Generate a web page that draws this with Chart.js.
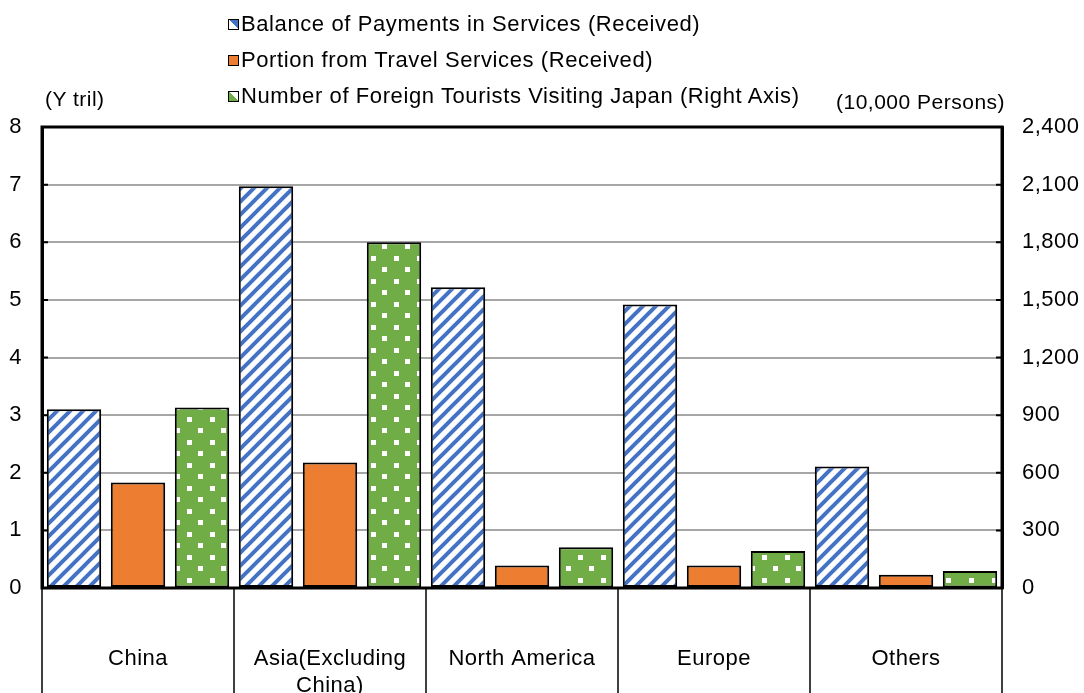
<!DOCTYPE html>
<html>
<head>
<meta charset="utf-8">
<script src="https://cdn.jsdelivr.net/npm/chart.js@4/dist/chart.umd.min.js"></script>
<style>
  html, body { margin: 0; padding: 0; background: #fff; }
  #wrap { position: relative; width: 1084px; height: 693px; overflow: hidden; font-family: "Liberation Sans", Arial, sans-serif; }
  canvas { position: absolute; left: 0; top: 0; }
  .legend { position: absolute; left: 228px; top: 9px; font-size: 22px; letter-spacing: 0.6px; color: #000; }
  .legend div { height: 36px; line-height: 30px; white-space: nowrap; }
  .legend span.box { display: inline-block; width: 9px; height: 9px; border: 1.5px solid #000; margin-right: 2px; vertical-align: 1px; }
  .title { position: absolute; font-size: 21px; letter-spacing: 0.5px; color: #000; white-space: nowrap; }
</style>
</head>
<body>
<div id="wrap">
  <canvas id="chart" width="1084" height="693"></canvas>
  <div class="legend">
    <div><span class="box" style="background: linear-gradient(45deg, #fff 55%, #4472c4 55%);"></span>Balance of Payments in Services (Received)</div>
    <div><span class="box" style="background:#ed7d31;"></span>Portion from Travel Services (Received)</div>
    <div><span class="box" style="background: linear-gradient(45deg, #70ad47 55%, #fff 55%);"></span>Number of Foreign Tourists Visiting Japan (Right Axis)</div>
  </div>
  <div class="title" style="left:45px; top:87px;">(Y tril)</div>
  <div class="title" style="left:836px; top:90px;">(10,000 Persons)</div>
</div>
<script>
const regions = [['China'], ['Asia(Excluding', 'China)'], ['North America'], ['Europe'], ['Others']];
const servicesReceived = [3.1, 6.97, 5.22, 4.92, 2.11];
const travelReceived = [1.83, 2.18, 0.39, 0.39, 0.23];
const foreignTourists = [940, 1800, 212, 192, 88];

const leftTicks = [0, 1, 2, 3, 4, 5, 6, 7, 8];
const rightTicks = [0, 300, 600, 900, 1200, 1500, 1800, 2100, 2400];

function stripePattern() {
    const s = 13;
    const c = document.createElement('canvas');
    c.width = s; c.height = s;
    const g = c.getContext('2d');
    g.fillStyle = '#fff';
    g.fillRect(0, 0, s, s);
    g.strokeStyle = '#4472c4';
    g.lineWidth = 4;
    g.beginPath();
    g.moveTo(0, s); g.lineTo(s, 0);
    g.moveTo(-2, 2); g.lineTo(2, -2);
    g.moveTo(s - 2, s + 2); g.lineTo(s + 2, s - 2);
    g.stroke();
    return g.createPattern(c, 'repeat');
}

function dotPattern() {
    const c = document.createElement('canvas');
    c.width = 23; c.height = 23;
    const g = c.getContext('2d');
    g.fillStyle = '#70ad47';
    g.fillRect(0, 0, 23, 23);
    g.fillStyle = '#fff';
    g.fillRect(3, 3, 5, 5);
    g.fillRect(14, 14, 5, 5);
    return g.createPattern(c, 'repeat');
}

// frame, inner tick marks and the category dividers under the axis
const framePlugin = {
    id: 'frame',
    beforeDraw(chart) {
        chart.ctx.letterSpacing = '0.5px';
    },
    afterDraw(chart) {
        const { ctx, chartArea: a } = chart;
        ctx.save();
        ctx.strokeStyle = '#000';
        ctx.lineWidth = 1.5;
        ctx.beginPath();
        for (let i = 0; i <= regions.length; i++) {
            const x = a.left + (a.right - a.left) * i / regions.length;
            ctx.moveTo(x, a.bottom);
            ctx.lineTo(x, chart.height);
        }
        ctx.stroke();
        ctx.lineWidth = 2;
        ctx.beginPath();
        const yl = chart.scales.y;
        leftTicks.forEach(v => {
            const y = yl.getPixelForValue(v);
            ctx.moveTo(a.left, y); ctx.lineTo(a.left + 6, y);
            ctx.moveTo(a.right, y); ctx.lineTo(a.right - 6, y);
        });
        ctx.stroke();
        ctx.lineWidth = 3;
        ctx.strokeRect(a.left, a.top, a.right - a.left, a.bottom - a.top);
        ctx.restore();
    }
};

const font = { family: '"Liberation Sans", Arial, sans-serif', size: 22 };

new Chart(document.getElementById('chart'), {
    type: 'bar',
    data: {
        labels: regions,
        datasets: [
            {
                label: 'Balance of Payments in Services (Received)',
                data: servicesReceived,
                backgroundColor: stripePattern(),
                yAxisID: 'y'
            },
            {
                label: 'Portion from Travel Services (Received)',
                data: travelReceived,
                backgroundColor: '#ed7d31',
                yAxisID: 'y'
            },
            {
                label: 'Number of Foreign Tourists Visiting Japan (Right Axis)',
                data: foreignTourists,
                backgroundColor: dotPattern(),
                yAxisID: 'y1'
            }
        ]
    },
    options: {
        responsive: false,
        animation: false,
        layout: { padding: { top: 127 } },
        datasets: {
            bar: {
                borderColor: '#000',
                borderWidth: 2,
                borderSkipped: false,
                categoryPercentage: 1,
                barPercentage: 0.85
            }
        },
        plugins: {
            legend: { display: false },
            tooltip: { enabled: false }
        },
        scales: {
            x: {
                grid: { display: false },
                border: { display: false },
                ticks: { color: '#000', font, padding: 50, maxRotation: 0, autoSkip: false },
                afterFit(s) { s.height = 105; }
            },
            y: {
                position: 'left',
                min: 0,
                max: 8,
                afterBuildTicks(s) { s.ticks = leftTicks.map(v => ({ value: v })); },
                grid: { color: '#a6a6a6', lineWidth: 2, drawTicks: false },
                border: { color: '#000', width: 3 },
                ticks: { color: '#000', font, padding: 20 },
                afterFit(s) { s.width = 42; }
            },
            y1: {
                position: 'right',
                min: 0,
                max: 2400,
                afterBuildTicks(s) { s.ticks = rightTicks.map(v => ({ value: v })); },
                grid: { drawOnChartArea: false, drawTicks: false },
                border: { color: '#000', width: 3 },
                ticks: { color: '#000', font, padding: 20, callback: v => v.toLocaleString('en-US') },
                afterFit(s) { s.width = 82; }
            }
        }
    },
    plugins: [framePlugin]
});
</script>
</body>
</html>
